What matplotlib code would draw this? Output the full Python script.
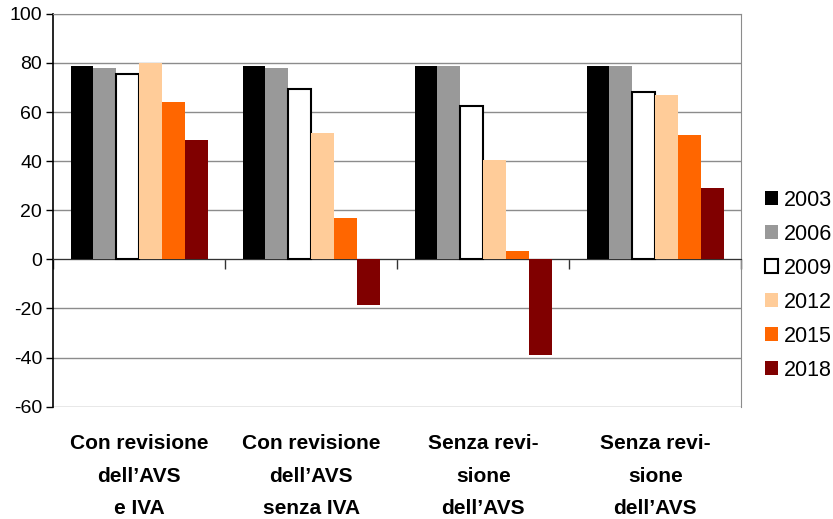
import matplotlib
matplotlib.use("Agg")
import matplotlib.pyplot as plt
import numpy as np
from matplotlib import transforms

# scenarios on the x axis
categories = [
    "Con revisione\ndell\u2019AVS\ne IVA",
    "Con revisione\ndell\u2019AVS\nsenza IVA",
    "Senza revi-\nsione\ndell\u2019AVS",
    "Senza revi-\nsione\ndell\u2019AVS",
]
years = ["2003", "2006", "2009", "2012", "2015", "2018"]

# one list per year, values for the four scenarios
v2003 = [78.6, 78.6, 78.6, 78.6]
v2006 = [77.8, 77.8, 78.6, 78.6]
v2009 = [75.6, 69.4, 62.4, 68.0]
v2012 = [79.9, 51.4, 40.3, 67.1]
v2015 = [64.0, 16.9, 3.5, 50.6]
v2018 = [48.6, -18.7, -38.9, 29.1]

yticks = [-60, -40, -20, 0, 20, 40, 60, 80, 100]

series = [v2003, v2006, v2009, v2012, v2015, v2018]
colors = ["#000000", "#999999", "#ffffff", "#ffcc99", "#ff6600", "#800000"]

plt.rcParams["font.family"] = ["Liberation Sans", "DejaVu Sans"]

fig = plt.figure(figsize=(8.33, 5.19), dpi=100)
ax = fig.add_axes([0.064, 0.2164, 0.826, 0.757])

x = np.arange(len(categories))
bw = 0.8 / len(series)
handles = []
for i, (vals, col) in enumerate(zip(series, colors)):
    pos = x - 0.4 + bw * (i + 0.5)
    if col == "#ffffff":
        b = ax.bar(pos, vals, bw, color=col, edgecolor="black", linewidth=1.5, zorder=3)
    else:
        b = ax.bar(pos, vals, bw, color=col, linewidth=0, zorder=3)
    handles.append(b)

ax.set_xlim(-0.5, len(categories) - 0.5)
ax.set_ylim(-60, 100)
ax.set_yticks(yticks)
ax.set_yticklabels([str(t) for t in yticks], fontsize=14)
ax.tick_params(axis="y", length=5, width=1, color="black", pad=3)
ax.yaxis.grid(True, color="#8c8c8c", linewidth=1, zorder=0)
ax.set_axisbelow(True)

# category boundaries as ticks hanging off the zero line
ax.set_xticks(np.arange(len(categories) + 1) - 0.5)
ax.set_xticklabels([])
ax.tick_params(axis="x", length=7, width=1, color="#333333", direction="out")

ax.spines["bottom"].set_position(("data", 0))
ax.spines["bottom"].set_color("#333333")
ax.spines["left"].set_color("black")
ax.spines["left"].set_linewidth(1.2)
for s in ["top", "right"]:
    ax.spines[s].set_color("#8c8c8c")

trans = transforms.blended_transform_factory(ax.transData, fig.transFigure)
for i, lab in enumerate(categories):
    ax.text(i, 0.163, lab, transform=trans, ha="center", va="top",
            fontsize=15, fontweight="bold", linespacing=1.9)

fig.legend(handles, years, loc="upper left", bbox_to_anchor=(0.918, 0.634),
           frameon=False, fontsize=15.5, handlelength=0.62, handleheight=0.62,
           handletextpad=0.25, labelspacing=0.6, borderaxespad=0, borderpad=0)

fig.savefig("out.png", dpi=100)
